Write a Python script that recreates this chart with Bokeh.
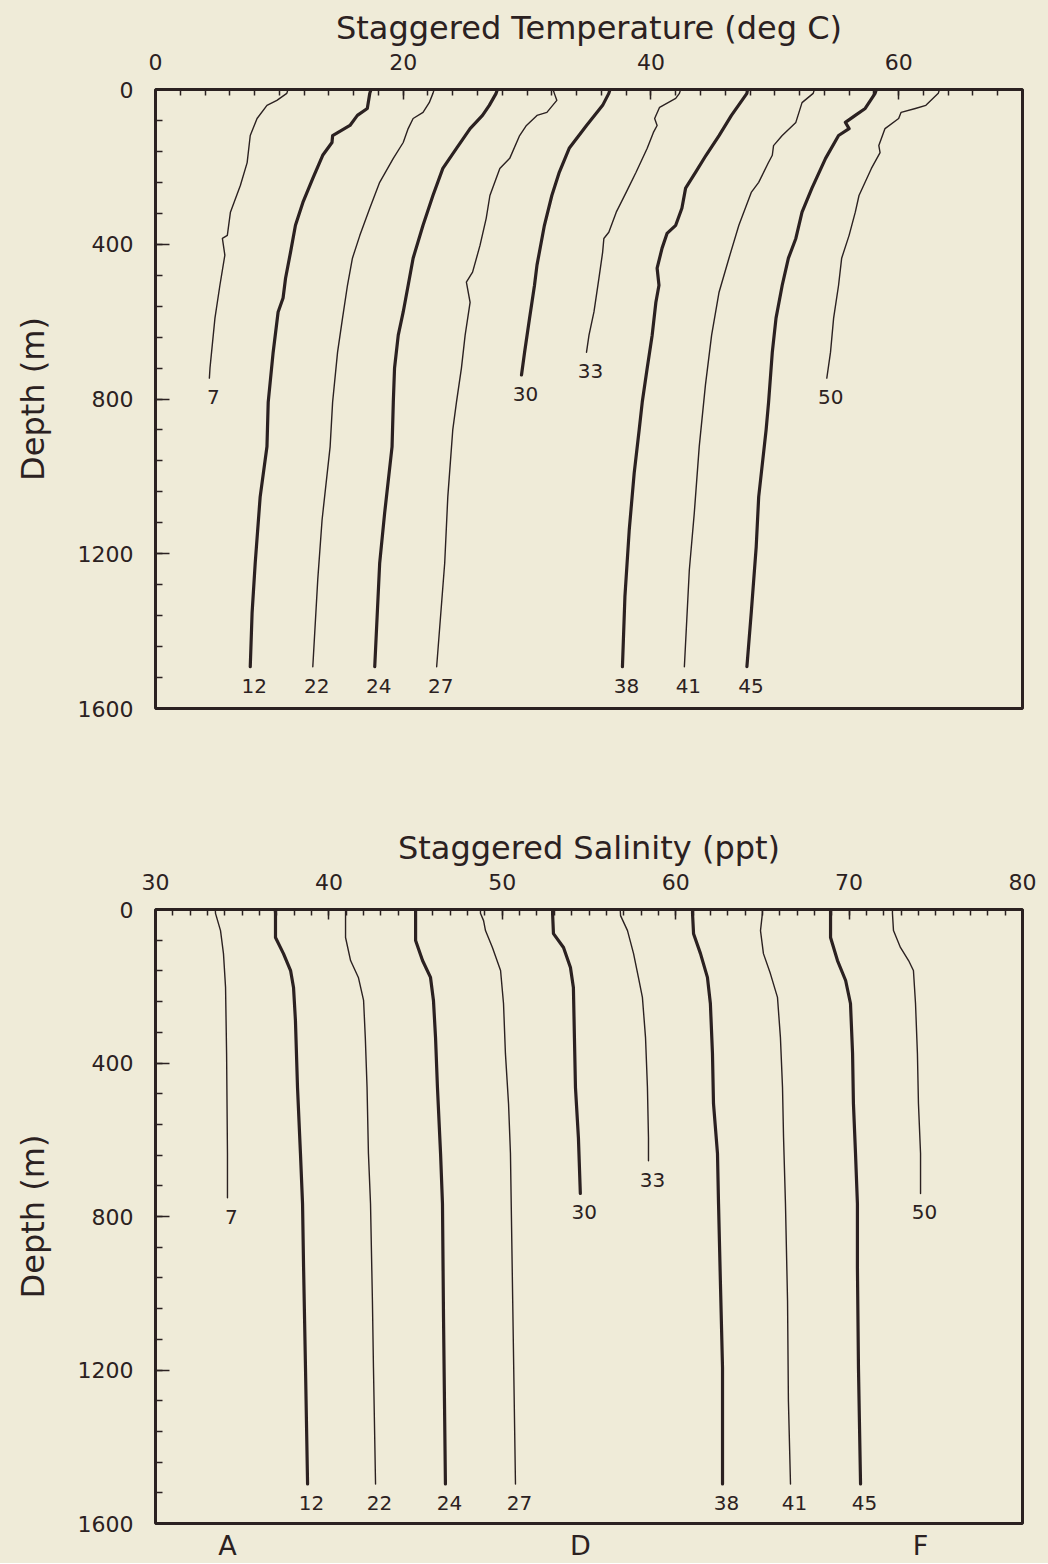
from bokeh.plotting import figure
from bokeh.models import Range1d, FixedTicker, LinearAxis
from bokeh.layouts import column
from bokeh.embed import file_html
from bokeh.resources import INLINE
from bokeh.core.properties import value

# ---------------- data ----------------
stations = ["7", "12", "22", "24", "27", "30", "33", "38", "41", "45", "50"]
bold_stations = ["12", "24", "30", "38", "45"]
letter_stations = ["7", "30", "50"]
letters = ["A", "D", "F"]

temp_ticks = [0, 20, 40, 60]
sal_ticks = [30, 40, 50, 60, 70, 80]
depth_ticks = [0, 400, 800, 1200, 1600]

# Staggered temperature profiles (depth m, deg C)
temp_depth_07 = [0, 10, 28, 41, 75, 119, 189, 248, 317, 377, 385, 428, 506, 591, 720, 746]
temp_value_07 = [10.7, 10.6, 9.8, 9.0, 8.2, 7.65, 7.4, 6.85, 6.05, 5.8, 5.4, 5.6, 5.2, 4.8, 4.4, 4.35]
temp_depth_12 = [0, 10, 49, 67, 93, 119, 137, 170, 230, 292, 351, 421, 488, 539, 575, 679, 808, 923, 1053, 1224, 1352, 1492]
temp_value_12 = [17.4, 17.3, 17.1, 16.3, 15.7, 14.3, 14.25, 13.5, 12.7, 11.9, 11.3, 10.9, 10.5, 10.3, 9.9, 9.5, 9.1, 9.0, 8.45, 8.05, 7.8, 7.65]
temp_depth_22 = [0, 10, 34, 59, 75, 101, 137, 178, 240, 307, 377, 436, 506, 591, 679, 808, 923, 1112, 1267, 1492]
temp_value_22 = [22.5, 22.4, 22.1, 21.6, 20.8, 20.4, 20.0, 19.2, 18.1, 17.3, 16.5, 15.9, 15.5, 15.1, 14.7, 14.3, 14.1, 13.45, 13.1, 12.7]
temp_depth_24 = [0, 10, 41, 67, 101, 152, 204, 274, 351, 436, 506, 575, 635, 720, 808, 923, 1095, 1224, 1492]
temp_value_24 = [27.6, 27.5, 26.95, 26.4, 25.4, 24.3, 23.2, 22.4, 21.6, 20.8, 20.4, 20.0, 19.6, 19.3, 19.2, 19.1, 18.5, 18.1, 17.7]
temp_depth_27 = [0, 10, 28, 59, 67, 93, 119, 178, 204, 274, 333, 403, 472, 498, 550, 635, 720, 808, 880, 1053, 1224, 1492]
temp_value_27 = [32.1, 32.2, 32.4, 31.6, 30.8, 29.95, 29.4, 28.6, 27.8, 27.0, 26.7, 26.2, 25.6, 25.1, 25.4, 25.0, 24.7, 24.3, 24.0, 23.6, 23.35, 22.7]
temp_depth_30 = [0, 10, 41, 93, 152, 214, 274, 351, 454, 506, 591, 679, 738]
temp_value_30 = [36.7, 36.6, 36.1, 34.8, 33.4, 32.6, 32.0, 31.4, 30.8, 30.6, 30.2, 29.8, 29.55]
temp_depth_33 = [0, 10, 23, 46, 75, 93, 111, 152, 214, 266, 317, 369, 385, 421, 488, 575, 635, 679]
temp_value_33 = [42.4, 42.3, 42.0, 40.7, 40.3, 40.5, 40.2, 39.7, 38.8, 38.0, 37.2, 36.6, 36.2, 36.1, 35.8, 35.4, 35.0, 34.8]
temp_depth_38 = [0, 10, 67, 119, 170, 214, 255, 307, 351, 372, 410, 462, 506, 550, 635, 720, 808, 880, 991, 1138, 1311, 1492]
temp_value_38 = [47.8, 47.75, 46.5, 45.5, 44.45, 43.6, 42.8, 42.5, 42.0, 41.3, 40.9, 40.5, 40.65, 40.4, 40.1, 39.7, 39.3, 39.05, 38.65, 38.25, 37.9, 37.7]
temp_depth_41 = [0, 10, 34, 85, 119, 145, 170, 188, 240, 266, 351, 436, 524, 635, 764, 923, 1095, 1242, 1492]
temp_value_41 = [53.2, 53.1, 52.2, 51.7, 50.6, 49.9, 49.8, 49.5, 48.7, 48.1, 47.1, 46.3, 45.5, 44.9, 44.4, 43.9, 43.5, 43.1, 42.7]
temp_depth_45 = [0, 10, 49, 67, 85, 101, 119, 178, 255, 317, 385, 436, 506, 591, 679, 808, 880, 1053, 1182, 1352, 1492]
temp_value_45 = [58.2, 58.1, 57.3, 56.5, 55.7, 56.0, 55.15, 54.1, 53.0, 52.2, 51.7, 51.1, 50.6, 50.1, 49.8, 49.5, 49.3, 48.7, 48.5, 48.1, 47.75]
temp_depth_50 = [0, 10, 41, 49, 59, 75, 101, 145, 163, 204, 274, 317, 377, 436, 506, 591, 679, 746]
temp_value_50 = [63.3, 63.2, 62.2, 61.35, 60.2, 60.0, 58.9, 58.4, 58.5, 57.8, 56.8, 56.5, 56.0, 55.4, 55.15, 54.75, 54.5, 54.2]

# Staggered salinity profiles (depth m, ppt)
sal_depth_07 = [0, 10, 55, 115, 203, 375, 636, 751]
sal_value_07 = [33.45, 33.46, 33.75, 33.92, 34.04, 34.1, 34.15, 34.15]
sal_depth_12 = [0, 10, 73, 115, 159, 203, 289, 464, 636, 767, 933, 1194, 1497]
sal_value_12 = [36.9, 36.92, 36.92, 37.38, 37.79, 37.96, 38.07, 38.19, 38.36, 38.48, 38.54, 38.65, 38.77]
sal_depth_22 = [0, 10, 73, 133, 177, 237, 334, 464, 636, 767, 1020, 1194, 1497]
sal_value_22 = [40.96, 40.96, 40.96, 41.25, 41.7, 42.0, 42.1, 42.2, 42.28, 42.4, 42.51, 42.57, 42.69]
sal_depth_24 = [0, 10, 81, 133, 177, 237, 334, 464, 636, 767, 1064, 1497]
sal_value_24 = [45.0, 45.0, 45.0, 45.4, 45.86, 46.03, 46.15, 46.26, 46.44, 46.55, 46.61, 46.72]
sal_depth_27 = [0, 10, 29, 55, 99, 159, 245, 375, 506, 636, 1020, 1497]
sal_value_27 = [48.74, 48.74, 48.92, 49.03, 49.43, 49.9, 50.07, 50.18, 50.36, 50.47, 50.6, 50.76]
sal_depth_30 = [0, 10, 63, 99, 151, 203, 334, 464, 595, 740]
sal_value_30 = [52.9, 52.9, 52.95, 53.53, 53.93, 54.1, 54.16, 54.22, 54.39, 54.5]
sal_depth_33 = [0, 16, 55, 115, 177, 229, 334, 464, 595, 655]
sal_value_33 = [56.8, 56.82, 57.22, 57.57, 57.85, 58.08, 58.26, 58.37, 58.43, 58.43]
sal_depth_38 = [0, 10, 63, 115, 177, 245, 375, 506, 636, 767, 975, 1194, 1497]
sal_value_38 = [60.97, 60.97, 61.03, 61.43, 61.83, 62.0, 62.12, 62.18, 62.41, 62.47, 62.58, 62.7, 62.7]
sal_depth_41 = [0, 10, 55, 115, 167, 229, 334, 464, 595, 767, 1020, 1280, 1497]
sal_value_41 = [65.0, 65.0, 64.89, 65.06, 65.46, 65.87, 66.04, 66.16, 66.22, 66.33, 66.45, 66.5, 66.62]
sal_depth_45 = [0, 10, 73, 133, 185, 245, 375, 506, 636, 767, 933, 1194, 1497]
sal_value_45 = [68.93, 68.93, 68.93, 69.33, 69.8, 70.08, 70.2, 70.25, 70.37, 70.48, 70.48, 70.54, 70.66]
sal_depth_50 = [0, 10, 55, 99, 133, 159, 245, 375, 506, 636, 740]
sal_value_50 = [72.5, 72.5, 72.56, 72.96, 73.43, 73.71, 73.83, 73.94, 74.0, 74.12, 74.12]

temp_depths = [temp_depth_07, temp_depth_12, temp_depth_22, temp_depth_24, temp_depth_27, temp_depth_30,
               temp_depth_33, temp_depth_38, temp_depth_41, temp_depth_45, temp_depth_50]
temp_values = [temp_value_07, temp_value_12, temp_value_22, temp_value_24, temp_value_27, temp_value_30,
               temp_value_33, temp_value_38, temp_value_41, temp_value_45, temp_value_50]
sal_depths = [sal_depth_07, sal_depth_12, sal_depth_22, sal_depth_24, sal_depth_27, sal_depth_30,
              sal_depth_33, sal_depth_38, sal_depth_41, sal_depth_45, sal_depth_50]
sal_values = [sal_value_07, sal_value_12, sal_value_22, sal_value_24, sal_value_27, sal_value_30,
              sal_value_33, sal_value_38, sal_value_41, sal_value_45, sal_value_50]

# ---------------- style ----------------
BG = "#efebd8"
INK = "#2b2121"
FONT = "DejaVu Sans"
PAGE_W = 1048


def make_panel(height, border_top, border_bottom, x_start, x_end, x_ticks, x_minor_step,
               title, depths, values):
    p = figure(width=PAGE_W, height=height,
               x_range=Range1d(x_start, x_end), y_range=Range1d(1600, 0),
               x_axis_location="above", output_backend="svg", toolbar_location=None,
               min_border_left=155, min_border_right=26,
               min_border_top=border_top, min_border_bottom=border_bottom,
               background_fill_color=BG, border_fill_color=BG,
               outline_line_color=INK, outline_line_width=3)
    p.xgrid.visible = False
    p.ygrid.visible = False

    xa = p.xaxis[0]
    xa.ticker = FixedTicker(ticks=x_ticks,
                            minor_ticks=list(range(x_start, x_end + 1, x_minor_step)))
    xa.axis_label = title
    xa.axis_label_text_font = FONT
    xa.axis_label_text_font_size = "32px"
    xa.axis_label_text_font_style = "normal"
    xa.axis_label_text_color = INK
    xa.axis_label_standoff = 4
    xa.major_label_text_font = FONT
    xa.major_label_text_font_size = "22px"
    xa.major_label_text_color = INK
    xa.major_label_standoff = 20
    xa.axis_line_color = None
    xa.major_tick_in = 10
    xa.major_tick_out = 0
    xa.minor_tick_in = 6
    xa.minor_tick_out = 0
    xa.major_tick_line_color = INK
    xa.minor_tick_line_color = INK
    xa.major_tick_line_width = 1.5
    xa.minor_tick_line_width = 1.5

    ya = p.yaxis[0]
    ya.ticker = FixedTicker(ticks=depth_ticks, minor_ticks=list(range(0, 1601, 80)))
    ya.axis_label = "Depth (m)"
    ya.axis_label_text_font = FONT
    ya.axis_label_text_font_size = "32px"
    ya.axis_label_text_font_style = "normal"
    ya.axis_label_text_color = INK
    ya.axis_label_standoff = 23
    ya.major_label_text_font = FONT
    ya.major_label_text_font_size = "22px"
    ya.major_label_text_color = INK
    ya.major_label_standoff = 22
    ya.axis_line_color = None
    ya.major_tick_in = 14
    ya.major_tick_out = 0
    ya.minor_tick_in = 7
    ya.minor_tick_out = 0
    ya.major_tick_line_color = INK
    ya.minor_tick_line_color = INK
    ya.major_tick_line_width = 1.5
    ya.minor_tick_line_width = 1.5

    for st, d, v in zip(stations, depths, values):
        lw = 3.2 if st in bold_stations else 1.4
        p.line(v, d, line_color=INK, line_width=lw, line_join="round", line_cap="round")

    p.text(x=[v[-1] for v in values], y=[d[-1] for d in depths], text=stations,
           x_offset=4, y_offset=19, text_align="center", text_baseline="middle",
           text_font=value(FONT), text_font_size="20px", text_color=INK)
    return p


p1 = make_panel(728, 89, 20, 0, 70, temp_ticks, 2,
                "Staggered Temperature (deg C)", temp_depths, temp_values)
p2 = make_panel(835, 181, 40, 30, 80, sal_ticks, 1,
                "Staggered Salinity (ppt)", sal_depths, sal_values)

letter_pos = [sal_values[stations.index(s)][-1] for s in letter_stations]
letter_axis = LinearAxis(
    ticker=FixedTicker(ticks=letter_pos, minor_ticks=[]),
    major_label_overrides={pos: lab for pos, lab in zip(letter_pos, letters)},
    axis_line_color=None, major_tick_line_color=None, minor_tick_line_color=None,
    major_tick_in=0, major_tick_out=0, minor_tick_in=0, minor_tick_out=0,
    major_label_standoff=6, major_label_text_font=FONT, major_label_text_font_size="27px",
    major_label_text_color=INK)
p2.add_layout(letter_axis, "below")

page = column(p1, p2, styles={"background-color": BG})
html = file_html(page, INLINE)
html = html.replace("<body>", '<body style="background-color: %s;">' % BG, 1)
open("out.html", "w").write(html)
